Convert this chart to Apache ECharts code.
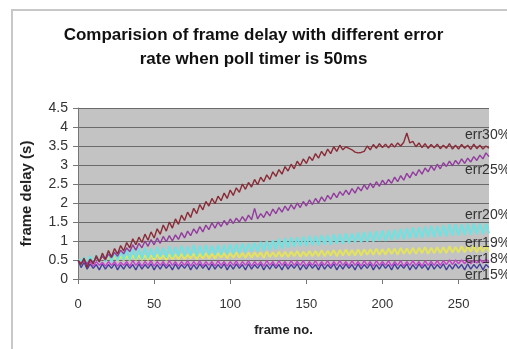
<!DOCTYPE html>
<html>
<head>
<meta charset="utf-8">
<script src="https://cdn.jsdelivr.net/npm/echarts@6/dist/echarts.min.js"></script>
<style>
html,body{margin:0;padding:0;background:#fff;}
#c{width:507px;height:349px;}
</style>
</head>
<body>
<div id="c"></div>
<script>
const err30 = [0.50,0.38,0.55,0.30,0.52,0.40,0.62,0.45,0.68,0.52,0.75,0.58,0.80,0.66,0.88,0.74,0.96,0.82,1.06,0.90,
1.10,0.96,1.18,1.02,1.24,1.08,1.32,1.18,1.42,1.26,1.50,1.34,1.58,1.44,1.68,1.54,1.76,1.62,1.86,1.72,
1.96,1.82,2.04,1.92,2.12,1.98,2.18,2.06,2.26,2.12,2.34,2.20,2.40,2.28,2.50,2.36,2.54,2.42,2.62,2.48,
2.68,2.56,2.74,2.62,2.82,2.70,2.88,2.76,2.96,2.84,3.02,2.90,3.10,2.98,3.16,3.04,3.22,3.12,3.30,3.18,
3.36,3.24,3.42,3.30,3.48,3.36,3.52,3.40,3.48,3.44,3.40,3.34,3.32,3.33,3.36,3.50,3.40,3.54,3.44,3.56,
3.46,3.55,3.45,3.56,3.47,3.58,3.50,3.60,3.84,3.58,3.62,3.48,3.58,3.46,3.56,3.44,3.54,3.45,3.55,3.43,
3.52,3.44,3.56,3.42,3.52,3.42,3.54,3.44,3.52,3.41,3.55,3.43,3.52,3.42,3.50,3.44];
const err25 = [0.48,0.42,0.50,0.40,0.52,0.44,0.56,0.46,0.60,0.50,0.66,0.56,0.70,0.60,0.76,0.66,0.82,0.72,0.90,0.76,
0.94,0.82,1.00,0.86,1.04,0.90,1.08,0.94,1.12,0.98,1.14,1.00,1.16,1.04,1.22,1.08,1.26,1.14,1.32,1.20,
1.38,1.24,1.42,1.30,1.48,1.34,1.50,1.38,1.54,1.42,1.58,1.46,1.60,1.50,1.64,1.52,1.68,1.56,1.86,1.58,
1.72,1.62,1.78,1.66,1.84,1.72,1.88,1.76,1.92,1.80,1.96,1.84,2.00,1.88,2.04,1.92,2.08,1.96,2.12,2.00,
2.16,2.04,2.20,2.10,2.26,2.14,2.30,2.20,2.34,2.22,2.38,2.26,2.42,2.32,2.48,2.36,2.52,2.40,2.56,2.44,
2.60,2.48,2.62,2.52,2.68,2.56,2.72,2.60,2.78,2.66,2.82,2.72,2.88,2.76,2.92,2.82,2.98,2.86,3.02,2.90,
3.06,2.96,3.10,2.98,3.12,3.02,3.16,3.04,3.18,3.08,3.22,3.12,3.26,3.16,3.32,3.22];
const err20 = [0.50,0.48,0.56,0.44,0.60,0.42,0.62,0.44,0.66,0.46,0.68,0.44,0.70,0.48,0.72,0.50,0.76,0.50,0.78,0.52,
0.80,0.52,0.82,0.54,0.80,0.56,0.84,0.58,0.82,0.56,0.86,0.58,0.84,0.60,0.88,0.60,0.86,0.62,0.90,0.60,
0.88,0.62,0.90,0.64,0.88,0.64,0.90,0.64,0.90,0.66,0.92,0.66,0.92,0.68,0.94,0.70,0.94,0.72,0.96,0.72,
0.98,0.74,1.00,0.76,1.02,0.78,1.06,0.80,1.08,0.82,1.10,0.84,1.10,0.86,1.12,0.86,1.14,0.88,1.14,0.88,
1.16,0.90,1.16,0.90,1.18,0.92,1.18,0.92,1.20,0.94,1.20,0.96,1.22,0.96,1.24,0.98,1.24,0.98,1.26,1.00,
1.28,1.00,1.28,1.02,1.30,1.04,1.32,1.04,1.34,1.06,1.36,1.08,1.36,1.08,1.38,1.10,1.40,1.10,1.40,1.12,
1.42,1.12,1.44,1.14,1.44,1.14,1.44,1.16,1.46,1.16,1.46,1.18,1.46,1.18,1.46,1.20];
const err19 = [0.50,0.46,0.54,0.46,0.56,0.46,0.56,0.48,0.58,0.48,0.58,0.48,0.60,0.48,0.60,0.50,0.60,0.50,0.62,0.50,
0.62,0.50,0.62,0.50,0.62,0.50,0.64,0.52,0.62,0.50,0.64,0.52,0.64,0.52,0.66,0.52,0.64,0.54,0.66,0.52,
0.66,0.54,0.68,0.54,0.66,0.54,0.68,0.56,0.68,0.54,0.68,0.56,0.70,0.56,0.68,0.56,0.70,0.56,0.70,0.58,
0.70,0.56,0.72,0.58,0.70,0.58,0.72,0.58,0.72,0.58,0.72,0.60,0.74,0.58,0.72,0.60,0.74,0.60,0.74,0.60,
0.76,0.60,0.74,0.62,0.76,0.60,0.76,0.62,0.78,0.62,0.76,0.62,0.78,0.62,0.78,0.64,0.78,0.64,0.80,0.64,
0.78,0.64,0.80,0.66,0.80,0.64,0.82,0.66,0.80,0.66,0.82,0.66,0.82,0.68,0.84,0.66,0.82,0.68,0.84,0.68,
0.84,0.68,0.86,0.70,0.84,0.70,0.86,0.70,0.86,0.72,0.88,0.70,0.86,0.72,0.88,0.72];
const err18 = [0.50,0.40,0.48,0.36,0.46,0.34,0.46,0.36,0.44,0.34,0.46,0.36,0.46,0.34,0.44,0.36,0.46,0.34,0.48,0.36,
0.46,0.34,0.46,0.36,0.48,0.34,0.46,0.36,0.46,0.34,0.48,0.36,0.46,0.34,0.46,0.36,0.48,0.34,0.46,0.36,
0.48,0.34,0.46,0.36,0.46,0.34,0.48,0.36,0.46,0.34,0.46,0.36,0.48,0.34,0.46,0.36,0.48,0.34,0.46,0.36,
0.46,0.34,0.48,0.36,0.46,0.34,0.48,0.36,0.46,0.34,0.48,0.36,0.46,0.36,0.48,0.34,0.46,0.36,0.48,0.34,
0.46,0.36,0.48,0.34,0.46,0.36,0.48,0.36,0.46,0.34,0.48,0.36,0.46,0.34,0.48,0.36,0.46,0.34,0.48,0.36,
0.46,0.36,0.48,0.34,0.46,0.36,0.48,0.34,0.46,0.36,0.48,0.36,0.46,0.34,0.48,0.36,0.46,0.36,0.48,0.36,
0.48,0.38,0.50,0.38,0.50,0.40,0.50,0.40,0.52,0.40,0.50,0.42,0.52,0.42,0.52,0.44];
const err15 = [0.50,0.30,0.44,0.26,0.40,0.28,0.38,0.24,0.40,0.26,0.38,0.28,0.40,0.24,0.38,0.26,0.40,0.28,0.38,0.24,
0.40,0.26,0.38,0.28,0.40,0.24,0.38,0.26,0.40,0.28,0.38,0.24,0.40,0.26,0.38,0.28,0.40,0.24,0.38,0.26,
0.40,0.28,0.38,0.24,0.40,0.26,0.38,0.28,0.40,0.24,0.38,0.26,0.40,0.28,0.38,0.24,0.40,0.26,0.38,0.28,
0.40,0.24,0.38,0.26,0.40,0.28,0.38,0.24,0.40,0.26,0.38,0.28,0.40,0.24,0.38,0.26,0.40,0.28,0.38,0.24,
0.40,0.26,0.38,0.28,0.40,0.24,0.38,0.26,0.40,0.28,0.38,0.24,0.40,0.26,0.38,0.28,0.40,0.24,0.38,0.26,
0.40,0.28,0.38,0.24,0.40,0.26,0.38,0.28,0.40,0.24,0.38,0.26,0.40,0.28,0.38,0.24,0.40,0.26,0.38,0.28,
0.40,0.24,0.38,0.26,0.40,0.28,0.38,0.24,0.40,0.26,0.38,0.28,0.40,0.24,0.38,0.30];

const seriesNames = ['err15%','err18%','err19%','err20%','err25%','err30%'];
const seriesValues = [err15, err18, err19, err20, err25, err30];
const seriesColors = ['#46409c','#c844cc','#e4e45c','#70e2e2','#923c9e','#8a2c38'];
const seriesWidths = [1.4, 1.4, 2, 2, 1.4, 1.4];
const labelOffsetY = [8, -3, -8, -18, 14, -13];
const frameStep = 2;
const xTicks = [0, 50, 100, 150, 200, 250];
const yTicks = [0, 0.5, 1, 1.5, 2, 2.5, 3, 3.5, 4, 4.5];

const chart = echarts.init(document.getElementById('c'), null, {renderer: 'canvas'});
const font = "'Liberation Sans', Arial, sans-serif";

const series = seriesNames.map((name, k) => ({
  name: name,
  type: 'line',
  showSymbol: false,
  symbol: 'none',
  animation: false,
  data: seriesValues[k].map((v, i) => [i * frameStep, v]),
  lineStyle: {color: seriesColors[k], width: seriesWidths[k]},
  itemStyle: {color: seriesColors[k]},
  endLabel: {
    show: true,
    formatter: name,
    distance: 0,
    offset: [-24, labelOffsetY[k]],
    color: '#333',
    fontSize: 14,
    fontFamily: font,
    align: 'left',
    verticalAlign: 'middle'
  },
  z: 2 + k
}));

chart.setOption({
  animation: false,
  backgroundColor: '#fff',
  title: {
    text: 'Comparision of frame delay with different error\nrate when poll timer is 50ms',
    left: 'center',
    top: 23,
    padding: [0, 0, 0, 8],
    textStyle: {fontSize: 17, fontWeight: 'bold', fontFamily: font, color: '#111', lineHeight: 24}
  },
  graphic: [{
    type: 'polyline',
    shape: {points: [[12, 349], [12, 10], [507, 10]]},
    style: {stroke: '#c8c8c8', lineWidth: 2, fill: null},
    z: -1
  }],
  grid: {
    left: 78, right: 18, top: 108, bottom: 70,
    show: true, backgroundColor: '#c3c3c3', borderWidth: 0
  },
  xAxis: {
    type: 'value',
    min: 0, max: 270, interval: 50,
    name: 'frame no.',
    nameLocation: 'middle',
    nameGap: 45,
    nameTextStyle: {fontSize: 13, fontWeight: 'bold', fontFamily: font, color: '#222'},
    axisLine: {show: true, lineStyle: {color: '#777', width: 1}},
    axisTick: {show: true, length: 5, lineStyle: {color: '#777'}},
    axisLabel: {
      margin: 19, fontSize: 13, fontFamily: font, color: '#333',
      showMaxLabel: false,
      formatter: v => xTicks.includes(v) ? String(v) : ''
    },
    splitLine: {show: false}
  },
  yAxis: {
    type: 'value',
    min: 0, max: 4.5, interval: 0.5,
    name: 'frame delay (s)',
    nameLocation: 'middle',
    nameGap: 44,
    nameRotate: 90,
    nameTextStyle: {fontSize: 15, fontWeight: 'bold', fontFamily: font, color: '#222'},
    axisLine: {show: true, lineStyle: {color: '#777', width: 1}},
    axisTick: {show: true, length: 5, lineStyle: {color: '#777'}},
    axisLabel: {
      margin: 10, fontSize: 14, fontFamily: font, color: '#333',
      formatter: v => yTicks.includes(v) ? String(v) : ''
    },
    splitLine: {show: true, lineStyle: {color: '#6a6a6a', width: 1}}
  },
  series: series
});
</script>
</body>
</html>
